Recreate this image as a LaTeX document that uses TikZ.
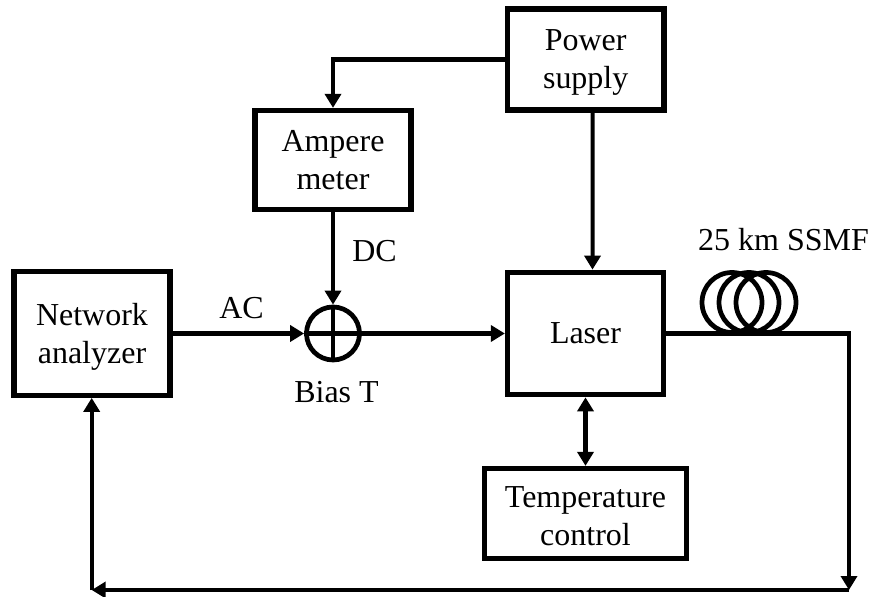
\documentclass[tikz,border=0pt]{standalone}
\usepackage{fontspec}
\setmainfont{Liberation Serif}
\usetikzlibrary{arrows.meta,positioning}
\newcommand{\firstline}[1]{\rule{0pt}{#1}}
\tikzset{
  block/.style={draw, line width=3pt, align=center, inner sep=2pt, font=\fontsize{18.2}{21.6}\selectfont},
  lab/.style={anchor=base, inner sep=0pt, font=\fontsize{18.2}{21.6}\selectfont},
  sig/.style={-{Triangle[length=2.8mm,width=3.2mm]}, line width=2.3pt},
  sigb/.style={{Triangle[length=2.8mm,width=3.2mm]}-{Triangle[length=2.8mm,width=3.2mm]}, line width=2.3pt},
  wire/.style={line width=2.3pt},
  coil/.style={draw, line width=2.7pt, circle, inner sep=0pt},
}
\begin{document}
\begin{tikzpicture}[x=0.02cm,y=-0.02cm]
\useasboundingbox (0,0) rectangle (872,597);
% blocks
\node[block, minimum width=3.13cm, minimum height=2.02cm] (psu) at (585.7,59.5) {\firstline{15pt}Power\\supply};
\node[block, minimum width=3.12cm, minimum height=1.98cm] (amp) at (333,160) {Ampere\\meter};
\node[block, minimum width=3.12cm, minimum height=2.47cm] (net) at (92,333.5) {\firstline{16.3pt}Network\\analyzer};
\node[block, minimum width=3.12cm, minimum height=2.45cm] (laser) at (585.5,333.5) {Laser};
\node[block, minimum width=4.04cm, minimum height=1.8cm] (temp) at (585.5,513.5) {\firstline{15pt}Temperature\\control};
\node[coil, minimum size=1.06cm] (bias) at (333,333.5) {};
\draw[wire] (bias.north) -- (bias.south);
\draw[wire] (bias.west) -- (bias.east);
% fibre coil
\foreach \i/\x in {a/732,b/749,c/766} {
  \node[coil, minimum size=1.2cm] (loop\i) at (\x,302.5) {};
}
\coordinate (drop) at (849,590);
\coordinate (corner) at (91.7,590);
% labels
\node[lab] (ssmf) at (783.5,250.7) {25 km SSMF};
\node[lab] (dc) at (374.5,262) {DC};
\node[lab] (ac) at (241.5,319) {AC};
\node[lab] (biaslab) at (336.5,402.3) {Bias T};
% connectors
\draw[sig] (psu.west) -| (amp.north);
\draw[sig] ([xshift=0.14cm]psu.south) -- ([xshift=0.14cm]laser.north);
\draw[sig] (amp.south) -- (bias.north);
\draw[sig] (net.east) -- (bias.west);
\draw[sig] (bias.east) -- (laser.west);
\draw[sigb] (laser.south) -- (temp.north);
\draw[sig] (laser.east) -| (drop);
\draw[sig] (drop) -- (corner);
\draw[sig] (corner) -- (corner |- net.south);
\end{tikzpicture}
\end{document}
